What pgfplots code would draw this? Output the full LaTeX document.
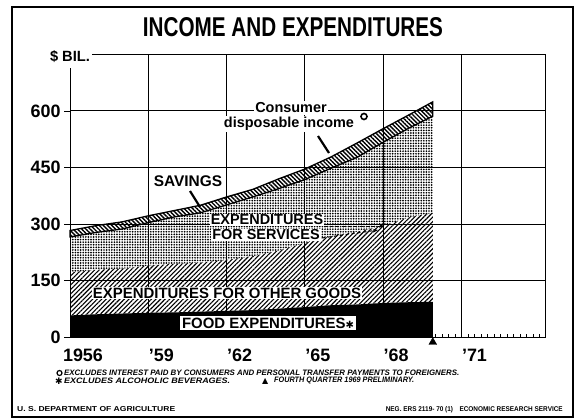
\documentclass[border=0pt]{standalone}
\usepackage{fontspec}
\setmainfont{Liberation Sans}
\newfontfamily\djv{DejaVu Sans}
\usepackage{pgfplots}
\usepackage{pgfplotstable}
\pgfplotsset{compat=1.18}
\usetikzlibrary{patterns.meta,arrows.meta}

\pgfplotstableread{
year   food goods services savings
1956   58   114   94   17
1957   61   118   99   18
1958   63   119   105  19
1959   65   125   114  18
1960   66   129   124  17
1961   68   130   132  20
1962   70   135   146  21
1963   72   143   157  20
1964   76   154   164  26
1965   80   170   168  28
1966   85   183   180  30
1967   87   193   197  38
1968   91   204   222  36
1969   93   225   237  35
1969.9 94   236   256  38
}\datatable

\begin{document}
\begin{tikzpicture}
\path[use as bounding box] (0,0) rectangle (576bp,-419bp);
\fill[white] (0,0) rectangle (576bp,-419bp);

\begin{axis}[
  at={(70bp,-337.3bp)}, anchor=south west,
  scale only axis, width=475bp, height=283bp,
  xmin=1956, xmax=1974.2, ymin=0, ymax=750,
  stack plots=y,
  axis on top,
  xtick={1956,1959,1962,1965,1968,1971},
  xticklabels={1956,’59,’62,’65,’68,’71},
  minor xtick={1956,1956.25,...,1974},
  ytick={0,150,300,450,600},
  grid=major,
  major grid style={black, line width=0.9bp},
  axis line style={black, line width=1bp},
  tick pos=left,
  xtick align=inside, ytick align=outside,
  major tick length=6bp, minor tick length=3.5bp,
  tick style={black, line width=0.8bp},
  /pgf/number format/assume math mode=true,
  xticklabel style={font=\fontsize{18}{18}\selectfont\bfseries, anchor=base, yshift=-24.5bp, xshift=13bp},
  yticklabel style={font=\fontsize{18}{18}\selectfont\bfseries},
  clip=false,
]
\addplot[fill=black, draw=none] table[x=year,y=food]{\datatable} \closedcycle;
\addplot[pattern={Lines[angle=45,distance=3.2bp,line width=1.1bp]}, draw=none] table[x=year,y=goods]{\datatable} \closedcycle;
\addplot[pattern={Dots[distance=2.6bp,radius=0.95bp]}, draw=none] table[x=year,y=services]{\datatable} \closedcycle;
\addplot[pattern={Lines[angle=-45,distance=3bp,line width=1.4bp]}, draw=black, line width=1.3bp] table[x=year,y=savings]{\datatable} \closedcycle;
\end{axis}

\begin{axis}[
  at={(70bp,-337.3bp)}, anchor=south west,
  scale only axis, width=475bp, height=283bp,
  xmin=1956, xmax=1974.2, ymin=0, ymax=750,
  hide axis, clip=false,
]
\addplot[only marks, mark=triangle*, mark size=4.5bp, black] coordinates {(1969.9,-13)};
\end{axis}

% frame
\draw[line width=1.5bp] (12bp,-7bp) rectangle (573bp,-417bp);

% title
\node at (293bp,-27.5bp) {\resizebox{300bp}{19bp}{\bfseries INCOME AND EXPENDITURES}};

% unit label
\node[fill=white, inner sep=0pt, minimum width=44bp, minimum height=22bp] at (70bp,-57bp) {\resizebox{40bp}{11bp}{\bfseries\$ BIL.}};

% annotations
\node[fill=white, inner sep=1.5bp, font=\fontsize{14.5}{16}\selectfont\bfseries] at (291bp,-108bp) {Consumer};
\node[fill=white, inner sep=1.5bp, font=\fontsize{14.5}{16}\selectfont\bfseries] at (289bp,-124bp) {disposable income};
\draw[line width=1.6bp] (364bp,-116.5bp) circle (3bp);
\draw[line width=2.2bp] (318bp,-136bp) -- (329bp,-153bp);

\node[fill=white, inner sep=1.5bp, font=\fontsize{15.5}{16}\selectfont\bfseries] at (188bp,-181bp) {SAVINGS};
\draw[line width=2.2bp] (190bp,-191bp) -- (200bp,-207bp);

\node[fill=white, inner sep=1bp, font=\fontsize{14.5}{16}\selectfont\bfseries] at (267bp,-220bp) {EXPENDITURES};
\node[fill=white, inner sep=1bp, font=\fontsize{14.5}{16}\selectfont\bfseries] at (266bp,-235bp) {FOR SERVICES};
\draw[dashed, line width=1bp, -{Stealth[length=5bp]}] (324bp,-226bp) -- (384bp,-226bp);
\draw[dashed, line width=1bp, -{Stealth[length=5bp]}] (322bp,-238bp) -- (378bp,-230bp);

\node[fill=white, inner sep=1bp, font=\fontsize{15}{16}\selectfont\bfseries] at (227bp,-293bp) {EXPENDITURES FOR OTHER GOODS};

\node[fill=white, inner sep=2bp, font=\fontsize{15}{16}\selectfont\bfseries] at (268bp,-323bp) {FOOD EXPENDITURES{\djv\fontsize{10}{10}\selectfont ✱}};

% footnotes
\draw[line width=1.2bp] (59.5bp,-373bp) circle (2.5bp);
\node[anchor=west, inner sep=0pt] at (64bp,-373bp) {\resizebox{395bp}{5.5bp}{\bfseries\itshape EXCLUDES INTEREST PAID BY CONSUMERS AND PERSONAL TRANSFER PAYMENTS TO FOREIGNERS.}};
\node[anchor=west, inner sep=0pt, font=\fontsize{9}{9}\selectfont\djv] at (55bp,-381bp) {✱};
\node[anchor=west, inner sep=0pt] at (64bp,-381bp) {\resizebox{166bp}{5.5bp}{\bfseries\itshape EXCLUDES ALCOHOLIC BEVERAGES.}};
\node[anchor=west, inner sep=0pt, font=\fontsize{8}{8}\selectfont\djv] at (262bp,-381bp) {▲};
\node[anchor=west, inner sep=0pt] at (274bp,-381bp) {\resizebox{140bp}{5.5bp}{\bfseries\itshape FOURTH QUARTER 1969 PRELIMINARY.}};

\node[anchor=west, inner sep=0pt] at (17bp,-409bp) {\resizebox{158bp}{5bp}{\bfseries U. S. DEPARTMENT OF AGRICULTURE}};
\node[anchor=east, inner sep=0pt] at (563bp,-410bp) {\resizebox{177bp}{5bp}{\bfseries NEG. ERS 2119- 70 (1)\quad ECONOMIC RESEARCH SERVICE}};
\end{tikzpicture}
\end{document}
